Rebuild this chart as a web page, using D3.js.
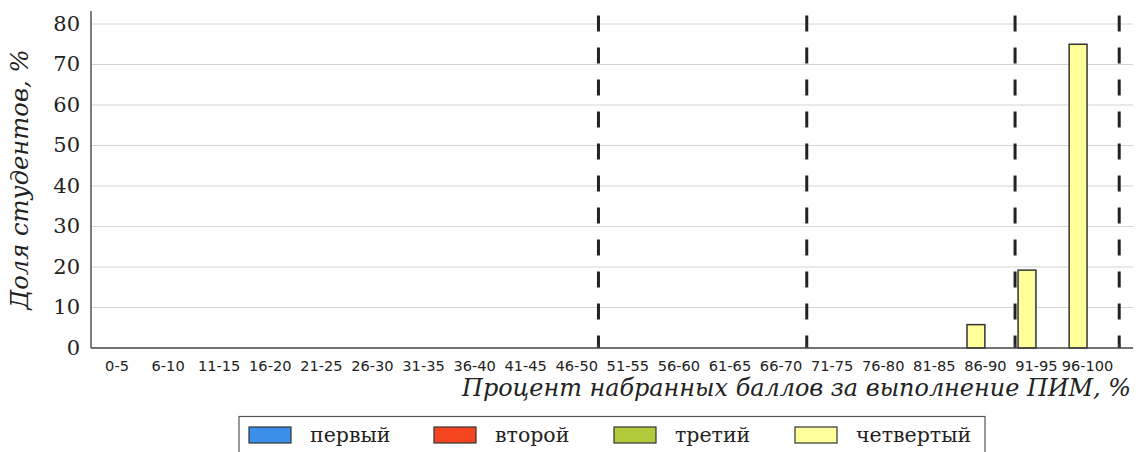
<!DOCTYPE html>
<html>
<head>
<meta charset="utf-8">
<script src="https://cdn.jsdelivr.net/npm/d3@7"></script>
<style>
  html, body { margin: 0; padding: 0; background: #fff; }
  svg { display: block; }
</style>
</head>
<body>
<script>
// ---------- data ----------
const categories = ["0-5","6-10","11-15","16-20","21-25","26-30","31-35","36-40","41-45","46-50",
                    "51-55","56-60","61-65","66-70","71-75","76-80","81-85","86-90","91-95","96-100"];
const seriesNames = ["первый","второй","третий","четвертый"];
const seriesFirst  = [0,0,0,0,0,0,0,0,0,0,0,0,0,0,0,0,0,0,0,0];
const seriesSecond = [0,0,0,0,0,0,0,0,0,0,0,0,0,0,0,0,0,0,0,0];
const seriesThird  = [0,0,0,0,0,0,0,0,0,0,0,0,0,0,0,0,0,0,0,0];
const seriesFourth = [0,0,0,0,0,0,0,0,0,0,0,0,0,0,0,0,0,5.77,19.23,75.0];
const yTicks = [0,10,20,30,40,50,60,70,80];
const thresholds = [50,70,90,100];
const yTitle = "Доля студентов, %";
const xTitle = "Процент набранных баллов за выполнение ПИМ, %";

// ---------- setup ----------
const W = 1139, H = 452;
const colors = ["#3b8fe8","#f54520","#b1cb3b","#ffff99"];
const allSeries = [seriesFirst, seriesSecond, seriesThird, seriesFourth];
const SERIF = "'DejaVu Serif', serif";
const SANS = "'DejaVu Sans', sans-serif";

const svg = d3.select("body").append("svg").attr("width", W).attr("height", H);

const x = d3.scaleLinear().domain([-0.5, 19.9]).range([91, 1133]);
const y = d3.scaleLinear().domain([0, 80]).range([348, 24]);
const yMax = 83.2;
const pct = d3.scaleLinear().domain([0, 100]).range([x(-0.76), x(19.63)]);
const sub = d3.scaleBand().domain(seriesNames).range([-1.4, 0]);

// gridlines
svg.append("g").selectAll("line").data(yTicks.filter(d => d > 0)).join("line")
  .attr("x1", x(-0.5)).attr("x2", x(19.9))
  .attr("y1", d => y(d)).attr("y2", d => y(d))
  .attr("stroke", "#d4d4d4").attr("stroke-width", 1);

// bars
const barData = [];
allSeries.forEach((vals, k) => vals.forEach((v, i) => { if (v > 0) barData.push({k, i, v}); }));
svg.append("g").selectAll("rect").data(barData).join("rect")
  .attr("x", d => x(d.i + sub(seriesNames[d.k])))
  .attr("width", d => x(d.i + sub(seriesNames[d.k]) + sub.bandwidth()) - x(d.i + sub(seriesNames[d.k])))
  .attr("y", d => y(d.v))
  .attr("height", d => y(0) - y(d.v))
  .attr("fill", d => colors[d.k])
  .attr("stroke", "#333").attr("stroke-width", 1.5);

// threshold dashed lines
svg.append("g").selectAll("line").data(thresholds).join("line")
  .attr("x1", d => pct(d)).attr("x2", d => pct(d))
  .attr("y1", y(82.1)).attr("y2", y(0))
  .attr("stroke", "#222").attr("stroke-width", 3)
  .attr("stroke-dasharray", "16,16");

// threshold ticks
svg.append("g").selectAll("line").data(thresholds).join("line")
  .attr("x1", d => pct(d)).attr("x2", d => pct(d))
  .attr("y1", y(0)).attr("y2", y(0) - 4)
  .attr("stroke", "#333").attr("stroke-width", 2);

// spines
svg.append("line").attr("x1", x(-0.5)).attr("x2", x(-0.5)).attr("y1", y(yMax)).attr("y2", y(0))
  .attr("stroke", "#555").attr("stroke-width", 1.5);
svg.append("line").attr("x1", x(-0.5)).attr("x2", x(19.9)).attr("y1", y(0)).attr("y2", y(0))
  .attr("stroke", "#444").attr("stroke-width", 1.5);

// y axis labels
const yAxis = svg.append("g").attr("transform", `translate(${x(-0.5)},0)`)
  .call(d3.axisLeft(y).tickValues(yTicks).tickSize(0).tickPadding(11));
yAxis.select(".domain").remove();
yAxis.selectAll("text").attr("font-family", SERIF).attr("font-size", 21).attr("fill", "#222")
  .attr("dy", "0.3em");

// x axis labels
const xAxis = svg.append("g").attr("transform", `translate(0,${y(0)})`)
  .call(d3.axisBottom(x).tickValues(d3.range(categories.length)).tickFormat(i => categories[i])
        .tickSize(0).tickPadding(13));
xAxis.select(".domain").remove();
xAxis.selectAll("text").attr("font-family", SANS).attr("font-size", 14.6).attr("fill", "#222");

function fitWidth(sel, target) {
  const fs = parseFloat(sel.attr("font-size"));
  const w = sel.node().getComputedTextLength();
  if (w > 0) sel.attr("font-size", (fs * target / w).toFixed(2));
}

// axis titles
const xt = svg.append("text").attr("x", 1131).attr("y", 396).attr("text-anchor", "end")
  .attr("font-family", SERIF).attr("font-style", "italic").attr("font-size", 22).attr("fill", "#222")
  .text(xTitle);
fitWidth(xt, 669);

const yt = svg.append("text").attr("transform", `translate(28,${(y(yMax) + y(0)) / 2}) rotate(-90)`)
  .attr("text-anchor", "middle")
  .attr("font-family", SERIF).attr("font-style", "italic").attr("font-size", 22).attr("fill", "#222")
  .text(yTitle);
fitWidth(yt, 260);

// legend
const lg = svg.append("g");
lg.append("rect").attr("x", 239).attr("y", 416.5).attr("width", 746).attr("height", 60)
  .attr("fill", "#fff").attr("stroke", "#555").attr("stroke-width", 1.2);
const patchStarts = [249, 434, 614, 795];
seriesNames.forEach((name, k) => {
  const px = patchStarts[k];
  lg.append("rect").attr("x", px).attr("y", 427).attr("width", 42).attr("height", 16)
    .attr("fill", colors[k]).attr("stroke", "#333").attr("stroke-width", 1.2);
  lg.append("text").attr("x", px + 61).attr("y", 441.5)
    .attr("font-family", SERIF).attr("font-size", 20.5).attr("fill", "#222").text(name);
});
</script>
</body>
</html>
